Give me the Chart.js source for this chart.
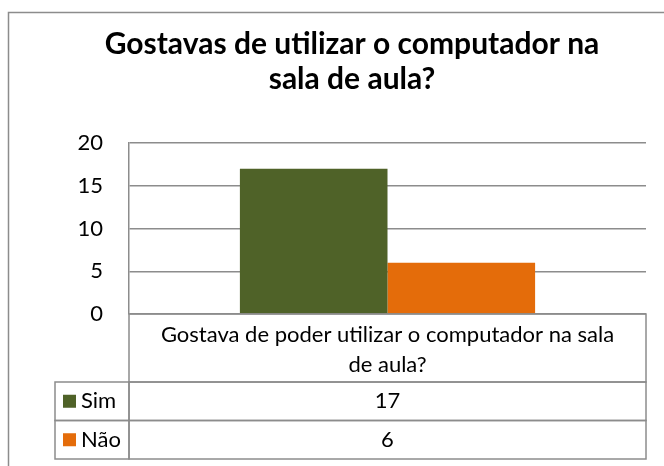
<!DOCTYPE html>
<html>
<head>
<meta charset="utf-8">
<script src="https://cdn.jsdelivr.net/npm/chart.js@4.4.0/dist/chart.umd.js"></script>
<style>
  html, body { margin: 0; padding: 0; background: #fff; }
  #wrap { position: relative; width: 664px; height: 466px; }
</style>
</head>
<body>
<div id="wrap"><canvas id="chart" width="664" height="466"></canvas></div>
<script>
// chart data
const categories = ['Gostava de poder utilizar o computador na sala de aula?'];
const seriesNames = ['Sim', 'Não'];
const simValues = [17];
const naoValues = [6];
const yTicks = [0, 5, 10, 15, 20];
const titleLines = ['Gostavas de utilizar o computador na', 'sala de aula?'];

const FONT = "Lato, 'Open Sans', sans-serif";
const LINE = '#8c8c8c';

function wrapText(ctx, text, maxWidth) {
    const words = text.split(' ');
    const lines = [];
    let cur = '';
    words.forEach(w => {
        const test = cur ? cur + ' ' + w : w;
        if (ctx.measureText(test).width > maxWidth && cur) {
            lines.push(cur);
            cur = w;
        } else {
            cur = test;
        }
    });
    if (cur) lines.push(cur);
    return lines;
}

// draws the outer frame and the data table under the plot
const dataTable = {
    id: 'dataTable',
    beforeDraw(chart) {
        const ctx = chart.ctx;
        ctx.save();
        ctx.strokeStyle = LINE;
        ctx.lineWidth = 1.5;
        ctx.strokeRect(8.5, 12.5, 700, 500);
        ctx.restore();
    },
    afterDraw(chart) {
        const ctx = chart.ctx;
        const area = chart.chartArea;
        const left = area.left, right = area.right;
        const headTop = area.bottom;
        const headBottom = headTop + 68;
        const rowH = 38.5;
        const labelLeft = 55;
        ctx.save();
        ctx.strokeStyle = LINE;
        ctx.lineWidth = 1.5;

        // header cell
        ctx.strokeRect(left, headTop, right - left, headBottom - headTop);
        // series rows
        chart.data.datasets.forEach((ds, i) => {
            const top = headBottom + i * rowH;
            ctx.strokeRect(labelLeft, top, left - labelLeft, rowH);
            ctx.strokeRect(left, top, right - left, rowH);
        });

        ctx.fillStyle = '#000';
        ctx.textBaseline = 'middle';
        ctx.font = '22px ' + FONT;
        ctx.textAlign = 'center';
        const cx = (left + right) / 2;
        const lines = wrapText(ctx, chart.data.labels[0], right - left - 40);
        lines.forEach((ln, j) => {
            ctx.fillText(ln, cx, headTop + 21 + j * 30);
        });

        chart.data.datasets.forEach((ds, i) => {
            const top = headBottom + i * rowH;
            const mid = top + rowH / 2;
            ctx.fillStyle = ds.backgroundColor;
            ctx.fillRect(63, mid - 6.5, 13, 13);
            ctx.fillStyle = '#000';
            ctx.textAlign = 'left';
            ctx.fillText(ds.label, 81, mid);
            ctx.textAlign = 'center';
            ctx.fillText(String(ds.data[0]), cx, mid);
        });
        ctx.restore();
    }
};

const ctx = document.getElementById('chart').getContext('2d');
new Chart(ctx, {
    type: 'bar',
    data: {
        labels: categories,
        datasets: [
            { label: seriesNames[0], data: simValues, backgroundColor: '#4f6228' },
            { label: seriesNames[1], data: naoValues, backgroundColor: '#e46c0a' }
        ]
    },
    options: {
        responsive: false,
        animation: false,
        devicePixelRatio: 1,
        layout: { padding: { left: 58, right: 18, top: 0, bottom: 152 } },
        datasets: { bar: { categoryPercentage: 0.571, barPercentage: 1.0 } },
        plugins: {
            legend: { display: false },
            tooltip: { enabled: false },
            title: {
                display: true,
                text: titleLines,
                color: '#000',
                font: { family: FONT, size: 30, weight: 'bold', lineHeight: 1.17 },
                padding: { top: 27, bottom: 46 }
            }
        },
        scales: {
            x: { display: false },
            y: {
                min: yTicks[0],
                max: yTicks[yTicks.length - 1],
                afterBuildTicks(scale) {
                    scale.ticks = yTicks.map(v => ({ value: v }));
                },
                afterFit(scale) { scale.width = 71; },
                border: { display: true, color: LINE, width: 1.5 },
                grid: { color: LINE, lineWidth: 1.5, drawTicks: false },
                ticks: {
                    color: '#000',
                    padding: 26,
                    font: { family: FONT, size: 22 }
                }
            }
        }
    },
    plugins: [dataTable]
});
</script>
</body>
</html>
